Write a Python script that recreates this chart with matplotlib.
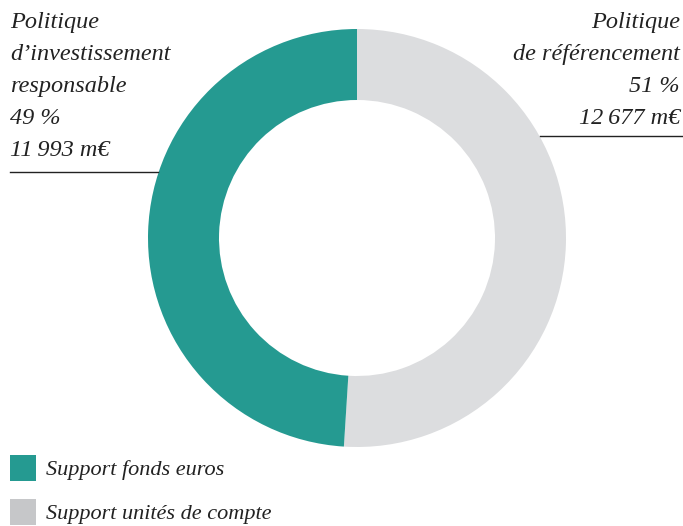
import matplotlib.pyplot as plt

# Part values (%), amounts and labels
parts = [51, 49]  # drawn clockwise from the top: grey first, then teal
part_colors = ['#DCDDDF', '#259A91']
amounts = ['12\u2009677 m€', '11\u2009993 m€']
titles = ['Politique\nde référencement', 'Politique\nd\u2019investissement\nresponsable']
legend_labels = ['Support fonds euros', 'Support unités de compte']
legend_colors = ['#259A91', '#C6C7C9']

W, H = 683, 526
fig = plt.figure(figsize=(W / 100, H / 100), dpi=100)
ax = fig.add_axes([0, 0, 1, 1])

font = dict(family='Liberation Serif', style='italic', size=17.5, color='#222222')

# Donut
ax.pie(parts, colors=part_colors, startangle=90, counterclock=False,
       center=(357, H - 238), radius=209, frame=True,
       wedgeprops=dict(width=71, linewidth=0))
ax.set_xlim(0, W)
ax.set_ylim(0, H)
ax.set_aspect('equal')
ax.axis('off')

# Left label (teal part)
ax.text(10, H - 12, titles[1] + '\n' + f'{parts[1]} %' + '\n' + amounts[1],
        ha='left', va='top', linespacing=1.68, **font)
ax.plot([10, 158], [H - 172, H - 172], color='#222222', lw=1)

# Right label (grey part)
ax.text(680, H - 12, titles[0] + '\n' + f'{parts[0]} %' + '\n' + amounts[0],
        ha='right', va='top', linespacing=1.68, **font)
ax.plot([540, 683], [H - 136, H - 136], color='#222222', lw=1)

# Legend
leg_font = dict(font, size=16)
for i, (lab, col) in enumerate(zip(legend_labels, legend_colors)):
    y0 = H - 481 - i * 44
    ax.add_patch(plt.Rectangle((10, y0), 26, 26, color=col, lw=0))
    ax.text(46, y0 + 11, lab, ha='left', va='center', **leg_font)

fig.savefig('out.png', dpi=100)
